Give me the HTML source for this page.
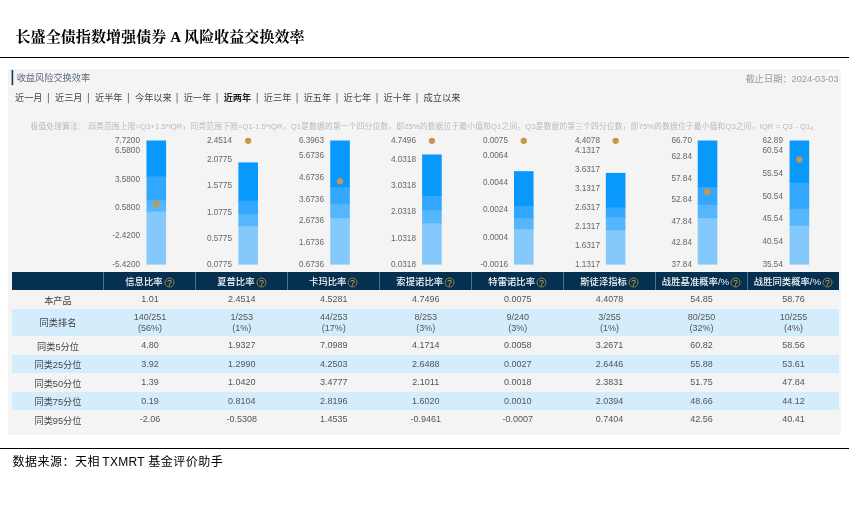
<!DOCTYPE html>
<html lang="zh-CN"><head><meta charset="utf-8"><title>长盛全债指数增强债券 A 风险收益交换效率</title>
<style>
html,body{margin:0;padding:0;background:#fff}
body{width:849px;height:514px;position:relative;overflow:hidden;font-family:"Liberation Sans","Noto Sans CJK SC",sans-serif}
div{position:absolute;box-sizing:border-box;white-space:nowrap}
.title{left:15.5px;top:27.2px;letter-spacing:0.08px;font:bold 15px/20px "Liberation Serif","Noto Serif CJK SC",serif;color:#000}
.hr{left:0;width:849px;height:1px;background:#000}
.panel{left:8px;top:69px;width:833px;height:366px;background:#f4f4f4}
.mark{left:11.6px;top:70px;width:1.6px;height:15px;background:#1d4a6d}
.sec{left:16.7px;top:71.3px;font-size:9.2px;line-height:15px;color:#5e6b7b}
.date{left:640px;width:198.6px;top:70.5px;text-align:right;font-size:9.2px;line-height:16px;color:#9a9a9a}
.tab{top:90.4px;font-size:9.2px;line-height:16px;color:#444}
.tab.on{font-weight:bold;color:#222}
.bar{top:93px;width:1px;height:10.5px;background:#777}
.desc{left:30.5px;top:120px;width:787.8px;font-size:7.7px;line-height:13px;color:#b9b9b9;text-align:justify;text-align-last:justify;white-space:normal}
.lat{letter-spacing:0.3px;margin:0 3.4px 0 2.2px}
.bars{position:absolute;left:0;top:0}
.dot{width:6px;height:6px;border-radius:50%;background:#c8974c}
.yl{text-align:right;font-size:9.4px;line-height:13px;color:#666;transform:scaleX(0.875);transform-origin:100% 50%}
.th{background:#06304f}
.sep{width:1px;background:#52718a}
.hc{text-align:center;color:#f2f5f8;font-size:9.35px;font-weight:500;padding-top:1px}
.pc{font-size:9.7px;font-weight:normal}
.q{display:inline-block;margin-left:1px;vertical-align:-2.5px}
.rb{background:#d3edfd}
.td{text-align:center;font-size:9px;color:#555;margin-top:0.4px}
.td.lab{color:#444;font-size:9.2px;margin-top:1.7px}
.foot{left:12.6px;top:452.8px;font:12px/18px "Liberation Sans","Noto Sans CJK SC",sans-serif;letter-spacing:0.5px;color:#000}
</style></head><body>
<div class="title">长盛全债指数增强债券 A 风险收益交换效率</div>
<div class="hr" style="top:57px"></div>
<div class="panel"></div>
<div class="sec">收益风险交换效率</div>
<div class="date">截止日期：2024-03-03</div>
<div class="tab" style="left:15.00px">近一月</div>
<div class="tab" style="left:55.00px">近三月</div>
<div class="tab" style="left:95.00px">近半年</div>
<div class="tab" style="left:135.00px">今年以来</div>
<div class="tab" style="left:183.70px">近一年</div>
<div class="tab on" style="left:223.70px">近两年</div>
<div class="tab" style="left:263.80px">近三年</div>
<div class="tab" style="left:303.70px">近五年</div>
<div class="tab" style="left:343.60px">近七年</div>
<div class="tab" style="left:383.60px">近十年</div>
<div class="tab" style="left:423.60px">成立以来</div>
<div class="desc">极值处理算法： 同类范围上限=Q3+1.5*IQR，同类范围下限=Q1-1.5*IQR，Q1是数据的第一个四分位数，即25%的数据位于最小值和Q1之间，Q3是数据的第三个四分位数，即75%的数据位于最小值和Q3之间，IQR = Q3 - Q1。</div>
<svg class="bars" width="849" height="514" viewBox="0 0 849 514"><rect x="11.6" y="70" width="1.6" height="15.2" fill="#103b5c"/>
<rect x="146.50" y="210.62" width="19.6" height="53.98" fill="#85c8fb"/>
<rect x="146.50" y="199.28" width="19.6" height="12.33" fill="#55b6fd"/>
<rect x="146.50" y="175.39" width="19.6" height="24.89" fill="#33a7fd"/>
<rect x="146.50" y="140.50" width="19.6" height="35.89" fill="#0998fc"/>
<circle cx="156.30" cy="204.17" r="3.15" fill="#c8974c"/>
<rect x="238.37" y="225.29" width="19.6" height="39.31" fill="#85c8fb"/>
<rect x="238.37" y="213.18" width="19.6" height="13.11" fill="#55b6fd"/>
<rect x="238.37" y="199.74" width="19.6" height="14.44" fill="#33a7fd"/>
<rect x="238.37" y="162.43" width="19.6" height="38.31" fill="#0998fc"/>
<circle cx="248.17" cy="140.80" r="3.15" fill="#c8974c"/>
<rect x="330.24" y="217.06" width="19.6" height="47.54" fill="#85c8fb"/>
<rect x="330.24" y="202.79" width="19.6" height="15.27" fill="#55b6fd"/>
<rect x="330.24" y="186.04" width="19.6" height="17.75" fill="#33a7fd"/>
<rect x="330.24" y="140.50" width="19.6" height="46.54" fill="#0998fc"/>
<circle cx="340.04" cy="181.31" r="3.15" fill="#c8974c"/>
<rect x="422.11" y="222.30" width="19.6" height="42.30" fill="#85c8fb"/>
<rect x="422.11" y="209.17" width="19.6" height="14.13" fill="#55b6fd"/>
<rect x="422.11" y="194.76" width="19.6" height="15.41" fill="#33a7fd"/>
<rect x="422.11" y="154.46" width="19.6" height="41.30" fill="#0998fc"/>
<circle cx="431.91" cy="140.80" r="3.15" fill="#c8974c"/>
<rect x="513.98" y="228.14" width="19.6" height="36.46" fill="#85c8fb"/>
<rect x="513.98" y="217.23" width="19.6" height="11.91" fill="#55b6fd"/>
<rect x="513.98" y="204.96" width="19.6" height="13.27" fill="#33a7fd"/>
<rect x="513.98" y="171.18" width="19.6" height="34.78" fill="#0998fc"/>
<circle cx="523.78" cy="140.80" r="3.15" fill="#c8974c"/>
<rect x="605.85" y="229.22" width="19.6" height="35.38" fill="#85c8fb"/>
<rect x="605.85" y="216.20" width="19.6" height="14.02" fill="#55b6fd"/>
<rect x="605.85" y="206.29" width="19.6" height="10.91" fill="#33a7fd"/>
<rect x="605.85" y="172.90" width="19.6" height="34.39" fill="#0998fc"/>
<circle cx="615.65" cy="140.80" r="3.15" fill="#c8974c"/>
<rect x="697.72" y="217.07" width="19.6" height="47.53" fill="#85c8fb"/>
<rect x="697.72" y="203.79" width="19.6" height="14.29" fill="#55b6fd"/>
<rect x="697.72" y="186.03" width="19.6" height="18.76" fill="#33a7fd"/>
<rect x="697.72" y="140.50" width="19.6" height="46.53" fill="#0998fc"/>
<circle cx="707.52" cy="191.76" r="3.15" fill="#c8974c"/>
<rect x="789.59" y="224.67" width="19.6" height="39.93" fill="#85c8fb"/>
<rect x="789.59" y="207.79" width="19.6" height="17.88" fill="#55b6fd"/>
<rect x="789.59" y="181.61" width="19.6" height="27.18" fill="#33a7fd"/>
<rect x="789.59" y="140.50" width="19.6" height="42.11" fill="#0998fc"/>
<circle cx="799.39" cy="159.54" r="3.15" fill="#c8974c"/>
<rect x="47.90" y="93" width="1" height="10.4" fill="#7a7a7a"/>
<rect x="87.90" y="93" width="1" height="10.4" fill="#7a7a7a"/>
<rect x="127.90" y="93" width="1" height="10.4" fill="#7a7a7a"/>
<rect x="176.60" y="93" width="1" height="10.4" fill="#7a7a7a"/>
<rect x="216.60" y="93" width="1" height="10.4" fill="#7a7a7a"/>
<rect x="256.70" y="93" width="1" height="10.4" fill="#7a7a7a"/>
<rect x="296.60" y="93" width="1" height="10.4" fill="#7a7a7a"/>
<rect x="336.50" y="93" width="1" height="10.4" fill="#7a7a7a"/>
<rect x="376.50" y="93" width="1" height="10.4" fill="#7a7a7a"/>
<rect x="416.50" y="93" width="1" height="10.4" fill="#7a7a7a"/></svg>
<div class="yl" style="left:80.30px;width:60px;top:132.70px">7.7200</div>
<div class="yl" style="left:80.30px;width:60px;top:143.47px">6.5800</div>
<div class="yl" style="left:80.30px;width:60px;top:171.80px">3.5800</div>
<div class="yl" style="left:80.30px;width:60px;top:200.13px">0.5800</div>
<div class="yl" style="left:80.30px;width:60px;top:228.47px">-2.4200</div>
<div class="yl" style="left:80.30px;width:60px;top:256.80px">-5.4200</div>
<div class="yl" style="left:172.17px;width:60px;top:132.70px">2.4514</div>
<div class="yl" style="left:172.17px;width:60px;top:152.25px">2.0775</div>
<div class="yl" style="left:172.17px;width:60px;top:178.38px">1.5775</div>
<div class="yl" style="left:172.17px;width:60px;top:204.52px">1.0775</div>
<div class="yl" style="left:172.17px;width:60px;top:230.66px">0.5775</div>
<div class="yl" style="left:172.17px;width:60px;top:256.80px">0.0775</div>
<div class="yl" style="left:264.04px;width:60px;top:132.70px">6.3963</div>
<div class="yl" style="left:264.04px;width:60px;top:148.37px">5.6736</div>
<div class="yl" style="left:264.04px;width:60px;top:170.06px">4.6736</div>
<div class="yl" style="left:264.04px;width:60px;top:191.74px">3.6736</div>
<div class="yl" style="left:264.04px;width:60px;top:213.43px">2.6736</div>
<div class="yl" style="left:264.04px;width:60px;top:235.11px">1.6736</div>
<div class="yl" style="left:264.04px;width:60px;top:256.80px">0.6736</div>
<div class="yl" style="left:355.91px;width:60px;top:132.70px">4.7496</div>
<div class="yl" style="left:355.91px;width:60px;top:151.58px">4.0318</div>
<div class="yl" style="left:355.91px;width:60px;top:177.89px">3.0318</div>
<div class="yl" style="left:355.91px;width:60px;top:204.19px">2.0318</div>
<div class="yl" style="left:355.91px;width:60px;top:230.50px">1.0318</div>
<div class="yl" style="left:355.91px;width:60px;top:256.80px">0.0318</div>
<div class="yl" style="left:447.78px;width:60px;top:132.70px">0.0075</div>
<div class="yl" style="left:447.78px;width:60px;top:147.70px">0.0064</div>
<div class="yl" style="left:447.78px;width:60px;top:174.98px">0.0044</div>
<div class="yl" style="left:447.78px;width:60px;top:202.25px">0.0024</div>
<div class="yl" style="left:447.78px;width:60px;top:229.53px">0.0004</div>
<div class="yl" style="left:447.78px;width:60px;top:256.80px">-0.0016</div>
<div class="yl" style="left:539.65px;width:60px;top:132.70px">4.4078</div>
<div class="yl" style="left:539.65px;width:60px;top:143.16px">4.1317</div>
<div class="yl" style="left:539.65px;width:60px;top:162.10px">3.6317</div>
<div class="yl" style="left:539.65px;width:60px;top:181.04px">3.1317</div>
<div class="yl" style="left:539.65px;width:60px;top:199.98px">2.6317</div>
<div class="yl" style="left:539.65px;width:60px;top:218.92px">2.1317</div>
<div class="yl" style="left:539.65px;width:60px;top:237.86px">1.6317</div>
<div class="yl" style="left:539.65px;width:60px;top:256.80px">1.1317</div>
<div class="yl" style="left:631.52px;width:60px;top:132.70px">66.70</div>
<div class="yl" style="left:631.52px;width:60px;top:149.30px">62.84</div>
<div class="yl" style="left:631.52px;width:60px;top:170.80px">57.84</div>
<div class="yl" style="left:631.52px;width:60px;top:192.30px">52.84</div>
<div class="yl" style="left:631.52px;width:60px;top:213.80px">47.84</div>
<div class="yl" style="left:631.52px;width:60px;top:235.30px">42.84</div>
<div class="yl" style="left:631.52px;width:60px;top:256.80px">37.84</div>
<div class="yl" style="left:723.39px;width:60px;top:132.70px">62.89</div>
<div class="yl" style="left:723.39px;width:60px;top:143.36px">60.54</div>
<div class="yl" style="left:723.39px;width:60px;top:166.05px">55.54</div>
<div class="yl" style="left:723.39px;width:60px;top:188.74px">50.54</div>
<div class="yl" style="left:723.39px;width:60px;top:211.43px">45.54</div>
<div class="yl" style="left:723.39px;width:60px;top:234.11px">40.54</div>
<div class="yl" style="left:723.39px;width:60px;top:256.80px">35.54</div>
<div class="th" style="left:12px;top:272px;width:827.46px;height:18px"></div>
<div class="sep" style="left:103.44px;top:272px;height:18px"></div>
<div class="sep" style="left:195.38px;top:272px;height:18px"></div>
<div class="sep" style="left:287.32px;top:272px;height:18px"></div>
<div class="sep" style="left:379.26px;top:272px;height:18px"></div>
<div class="sep" style="left:471.20px;top:272px;height:18px"></div>
<div class="sep" style="left:563.14px;top:272px;height:18px"></div>
<div class="sep" style="left:655.08px;top:272px;height:18px"></div>
<div class="sep" style="left:747.02px;top:272px;height:18px"></div>
<div class="hc" style="left:103.94px;top:272px;width:91.94px;height:18px;line-height:18px"><span class="ht">信息比率</span><svg class="q" width="11" height="11" viewBox="0 0 11 11"><circle cx="5.5" cy="5.5" r="4.5" fill="none" stroke="#a08a3e" stroke-width="0.9"/><text x="5.5" y="8.5" text-anchor="middle" font-size="8.8" fill="#e0b23e" font-family="Liberation Sans, sans-serif">?</text></svg></div>
<div class="hc" style="left:195.88px;top:272px;width:91.94px;height:18px;line-height:18px"><span class="ht">夏普比率</span><svg class="q" width="11" height="11" viewBox="0 0 11 11"><circle cx="5.5" cy="5.5" r="4.5" fill="none" stroke="#a08a3e" stroke-width="0.9"/><text x="5.5" y="8.5" text-anchor="middle" font-size="8.8" fill="#e0b23e" font-family="Liberation Sans, sans-serif">?</text></svg></div>
<div class="hc" style="left:287.82px;top:272px;width:91.94px;height:18px;line-height:18px"><span class="ht">卡玛比率</span><svg class="q" width="11" height="11" viewBox="0 0 11 11"><circle cx="5.5" cy="5.5" r="4.5" fill="none" stroke="#a08a3e" stroke-width="0.9"/><text x="5.5" y="8.5" text-anchor="middle" font-size="8.8" fill="#e0b23e" font-family="Liberation Sans, sans-serif">?</text></svg></div>
<div class="hc" style="left:379.76px;top:272px;width:91.94px;height:18px;line-height:18px"><span class="ht">索提诺比率</span><svg class="q" width="11" height="11" viewBox="0 0 11 11"><circle cx="5.5" cy="5.5" r="4.5" fill="none" stroke="#a08a3e" stroke-width="0.9"/><text x="5.5" y="8.5" text-anchor="middle" font-size="8.8" fill="#e0b23e" font-family="Liberation Sans, sans-serif">?</text></svg></div>
<div class="hc" style="left:471.70px;top:272px;width:91.94px;height:18px;line-height:18px"><span class="ht">特雷诺比率</span><svg class="q" width="11" height="11" viewBox="0 0 11 11"><circle cx="5.5" cy="5.5" r="4.5" fill="none" stroke="#a08a3e" stroke-width="0.9"/><text x="5.5" y="8.5" text-anchor="middle" font-size="8.8" fill="#e0b23e" font-family="Liberation Sans, sans-serif">?</text></svg></div>
<div class="hc" style="left:563.64px;top:272px;width:91.94px;height:18px;line-height:18px"><span class="ht">斯徒泽指标</span><svg class="q" width="11" height="11" viewBox="0 0 11 11"><circle cx="5.5" cy="5.5" r="4.5" fill="none" stroke="#a08a3e" stroke-width="0.9"/><text x="5.5" y="8.5" text-anchor="middle" font-size="8.8" fill="#e0b23e" font-family="Liberation Sans, sans-serif">?</text></svg></div>
<div class="hc" style="left:655.58px;top:272px;width:91.94px;height:18px;line-height:18px"><span class="ht">战胜基准概率<span class="pc">/%</span></span><svg class="q" width="11" height="11" viewBox="0 0 11 11"><circle cx="5.5" cy="5.5" r="4.5" fill="none" stroke="#a08a3e" stroke-width="0.9"/><text x="5.5" y="8.5" text-anchor="middle" font-size="8.8" fill="#e0b23e" font-family="Liberation Sans, sans-serif">?</text></svg></div>
<div class="hc" style="left:747.52px;top:272px;width:91.94px;height:18px;line-height:18px"><span class="ht">战胜同类概率<span class="pc">/%</span></span><svg class="q" width="11" height="11" viewBox="0 0 11 11"><circle cx="5.5" cy="5.5" r="4.5" fill="none" stroke="#a08a3e" stroke-width="0.9"/><text x="5.5" y="8.5" text-anchor="middle" font-size="8.8" fill="#e0b23e" font-family="Liberation Sans, sans-serif">?</text></svg></div>
<div class="td lab" style="left:12.00px;top:290px;width:91.94px;height:18.5px;line-height:18.5px">本产品</div>
<div class="td" style="left:103.94px;top:290px;width:91.94px;height:18.5px;line-height:18.5px">1.01</div>
<div class="td" style="left:195.88px;top:290px;width:91.94px;height:18.5px;line-height:18.5px">2.4514</div>
<div class="td" style="left:287.82px;top:290px;width:91.94px;height:18.5px;line-height:18.5px">4.5281</div>
<div class="td" style="left:379.76px;top:290px;width:91.94px;height:18.5px;line-height:18.5px">4.7496</div>
<div class="td" style="left:471.70px;top:290px;width:91.94px;height:18.5px;line-height:18.5px">0.0075</div>
<div class="td" style="left:563.64px;top:290px;width:91.94px;height:18.5px;line-height:18.5px">4.4078</div>
<div class="td" style="left:655.58px;top:290px;width:91.94px;height:18.5px;line-height:18.5px">54.85</div>
<div class="td" style="left:747.52px;top:290px;width:91.94px;height:18.5px;line-height:18.5px">58.76</div>
<div class="rb" style="left:12px;top:308.5px;width:827.46px;height:27.5px"></div>
<div class="td lab" style="left:12.00px;top:308.5px;width:91.94px;height:27.5px;line-height:27.5px">同类排名</div>
<div class="td" style="left:103.94px;top:311.7px;width:91.94px;line-height:10.6px">140/251<br>(56%)</div>
<div class="td" style="left:195.88px;top:311.7px;width:91.94px;line-height:10.6px">1/253<br>(1%)</div>
<div class="td" style="left:287.82px;top:311.7px;width:91.94px;line-height:10.6px">44/253<br>(17%)</div>
<div class="td" style="left:379.76px;top:311.7px;width:91.94px;line-height:10.6px">8/253<br>(3%)</div>
<div class="td" style="left:471.70px;top:311.7px;width:91.94px;line-height:10.6px">9/240<br>(3%)</div>
<div class="td" style="left:563.64px;top:311.7px;width:91.94px;line-height:10.6px">3/255<br>(1%)</div>
<div class="td" style="left:655.58px;top:311.7px;width:91.94px;line-height:10.6px">80/250<br>(32%)</div>
<div class="td" style="left:747.52px;top:311.7px;width:91.94px;line-height:10.6px">10/255<br>(4%)</div>
<div class="td lab" style="left:12.00px;top:336px;width:91.94px;height:18.5px;line-height:18.5px">同类5分位</div>
<div class="td" style="left:103.94px;top:336px;width:91.94px;height:18.5px;line-height:18.5px">4.80</div>
<div class="td" style="left:195.88px;top:336px;width:91.94px;height:18.5px;line-height:18.5px">1.9327</div>
<div class="td" style="left:287.82px;top:336px;width:91.94px;height:18.5px;line-height:18.5px">7.0989</div>
<div class="td" style="left:379.76px;top:336px;width:91.94px;height:18.5px;line-height:18.5px">4.1714</div>
<div class="td" style="left:471.70px;top:336px;width:91.94px;height:18.5px;line-height:18.5px">0.0058</div>
<div class="td" style="left:563.64px;top:336px;width:91.94px;height:18.5px;line-height:18.5px">3.2671</div>
<div class="td" style="left:655.58px;top:336px;width:91.94px;height:18.5px;line-height:18.5px">60.82</div>
<div class="td" style="left:747.52px;top:336px;width:91.94px;height:18.5px;line-height:18.5px">58.56</div>
<div class="rb" style="left:12px;top:354.5px;width:827.46px;height:18.5px"></div>
<div class="td lab" style="left:12.00px;top:354.5px;width:91.94px;height:18.5px;line-height:18.5px">同类25分位</div>
<div class="td" style="left:103.94px;top:354.5px;width:91.94px;height:18.5px;line-height:18.5px">3.92</div>
<div class="td" style="left:195.88px;top:354.5px;width:91.94px;height:18.5px;line-height:18.5px">1.2990</div>
<div class="td" style="left:287.82px;top:354.5px;width:91.94px;height:18.5px;line-height:18.5px">4.2503</div>
<div class="td" style="left:379.76px;top:354.5px;width:91.94px;height:18.5px;line-height:18.5px">2.6488</div>
<div class="td" style="left:471.70px;top:354.5px;width:91.94px;height:18.5px;line-height:18.5px">0.0027</div>
<div class="td" style="left:563.64px;top:354.5px;width:91.94px;height:18.5px;line-height:18.5px">2.6446</div>
<div class="td" style="left:655.58px;top:354.5px;width:91.94px;height:18.5px;line-height:18.5px">55.88</div>
<div class="td" style="left:747.52px;top:354.5px;width:91.94px;height:18.5px;line-height:18.5px">53.61</div>
<div class="td lab" style="left:12.00px;top:373px;width:91.94px;height:18.5px;line-height:18.5px">同类50分位</div>
<div class="td" style="left:103.94px;top:373px;width:91.94px;height:18.5px;line-height:18.5px">1.39</div>
<div class="td" style="left:195.88px;top:373px;width:91.94px;height:18.5px;line-height:18.5px">1.0420</div>
<div class="td" style="left:287.82px;top:373px;width:91.94px;height:18.5px;line-height:18.5px">3.4777</div>
<div class="td" style="left:379.76px;top:373px;width:91.94px;height:18.5px;line-height:18.5px">2.1011</div>
<div class="td" style="left:471.70px;top:373px;width:91.94px;height:18.5px;line-height:18.5px">0.0018</div>
<div class="td" style="left:563.64px;top:373px;width:91.94px;height:18.5px;line-height:18.5px">2.3831</div>
<div class="td" style="left:655.58px;top:373px;width:91.94px;height:18.5px;line-height:18.5px">51.75</div>
<div class="td" style="left:747.52px;top:373px;width:91.94px;height:18.5px;line-height:18.5px">47.84</div>
<div class="rb" style="left:12px;top:391.5px;width:827.46px;height:18.5px"></div>
<div class="td lab" style="left:12.00px;top:391.5px;width:91.94px;height:18.5px;line-height:18.5px">同类75分位</div>
<div class="td" style="left:103.94px;top:391.5px;width:91.94px;height:18.5px;line-height:18.5px">0.19</div>
<div class="td" style="left:195.88px;top:391.5px;width:91.94px;height:18.5px;line-height:18.5px">0.8104</div>
<div class="td" style="left:287.82px;top:391.5px;width:91.94px;height:18.5px;line-height:18.5px">2.8196</div>
<div class="td" style="left:379.76px;top:391.5px;width:91.94px;height:18.5px;line-height:18.5px">1.6020</div>
<div class="td" style="left:471.70px;top:391.5px;width:91.94px;height:18.5px;line-height:18.5px">0.0010</div>
<div class="td" style="left:563.64px;top:391.5px;width:91.94px;height:18.5px;line-height:18.5px">2.0394</div>
<div class="td" style="left:655.58px;top:391.5px;width:91.94px;height:18.5px;line-height:18.5px">48.66</div>
<div class="td" style="left:747.52px;top:391.5px;width:91.94px;height:18.5px;line-height:18.5px">44.12</div>
<div class="td lab" style="left:12.00px;top:410px;width:91.94px;height:18.5px;line-height:18.5px">同类95分位</div>
<div class="td" style="left:103.94px;top:410px;width:91.94px;height:18.5px;line-height:18.5px">-2.06</div>
<div class="td" style="left:195.88px;top:410px;width:91.94px;height:18.5px;line-height:18.5px">-0.5308</div>
<div class="td" style="left:287.82px;top:410px;width:91.94px;height:18.5px;line-height:18.5px">1.4535</div>
<div class="td" style="left:379.76px;top:410px;width:91.94px;height:18.5px;line-height:18.5px">-0.9461</div>
<div class="td" style="left:471.70px;top:410px;width:91.94px;height:18.5px;line-height:18.5px">-0.0007</div>
<div class="td" style="left:563.64px;top:410px;width:91.94px;height:18.5px;line-height:18.5px">0.7404</div>
<div class="td" style="left:655.58px;top:410px;width:91.94px;height:18.5px;line-height:18.5px">42.56</div>
<div class="td" style="left:747.52px;top:410px;width:91.94px;height:18.5px;line-height:18.5px">40.41</div>
<div class="hr" style="top:448px"></div>
<div class="foot">数据来源：天相<span class="lat">TXMRT</span>基金评价助手</div>
</body></html>
